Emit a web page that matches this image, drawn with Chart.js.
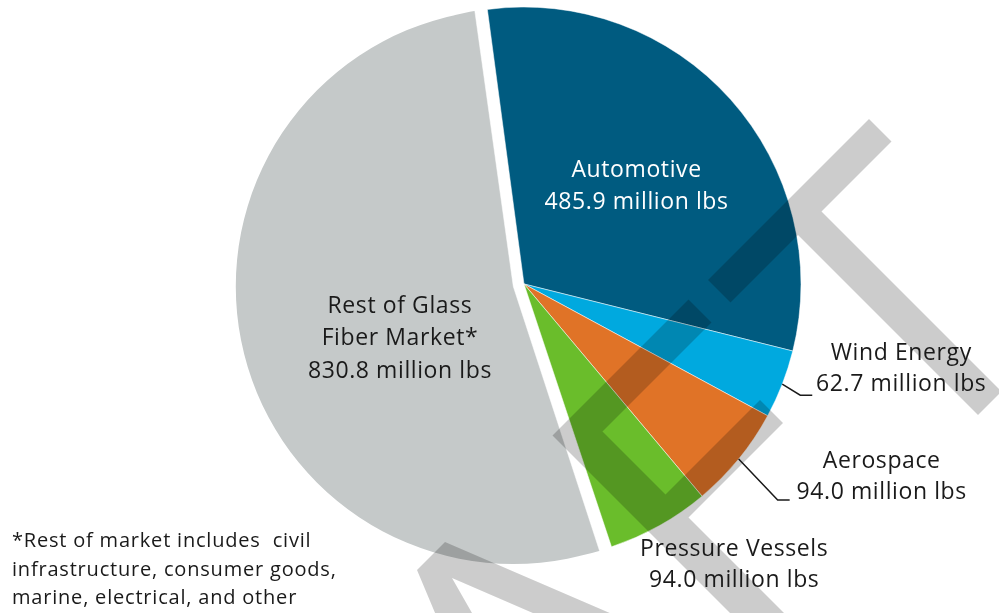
<!DOCTYPE html>
<html>
<head>
<meta charset="utf-8">
<script src="https://cdn.jsdelivr.net/npm/chart.js@4"></script>
<style>
  html, body { margin: 0; padding: 0; background: #fff; }
  #wrap { position: relative; width: 999px; height: 613px; }
  #note {
    position: absolute; left: 12px; top: 526px;
    font-family: "Open Sans", sans-serif; font-size: 20px; line-height: 28.5px;
    letter-spacing: 0.8px; color: #1a1a1a; white-space: pre;
  }
</style>
</head>
<body>
<div id="wrap">
  <canvas id="myChart" width="999" height="613"></canvas>
  <div id="note">*Rest of market includes  civil
infrastructure, consumer goods,
marine, electrical, and other</div>
</div>
<script>
const segments = ["Automotive", "Wind Energy", "Aerospace", "Pressure Vessels", ["Rest of Glass", "Fiber Market*"]];
const pounds = [485.9, 62.7, 94.0, 94.0, 830.8];
const unit = "million lbs";
const sliceColors = ["#005b80", "#00a9df", "#e07327", "#6abd2b", "#c5c9c9"];

// label placement per slice (outside ones relative to the slice's outer mid point)
const labelSpots = [
    { inside: true, k: 0.545, dy: 3, color: "#ffffff" },
    { dx: 119, dy: 0, leader: [[18, 11], [30, 11]] },
    { dx: 143, dy: 33, leader: [[39, 41], [51, 41]] },
    { dx: 75, dy: 55 },
    { inside: true, k: 0.42, dy: 26, color: "#1a1a1a" },
];

// chart.js v4 moves an arc by a quarter of its offset option
const shiftOf = (chart, i) => (chart.data.datasets[0].offset[i] || 0) / 4;

// background watermark, drawn over the pie but under the text
function watermark(ctx) {
    const band = (s1, s2, d1, d2) => {
        const p = (s, d) => [(s - d) / 2, (s + d) / 2];
        const pts = [p(s1, d1), p(s2, d1), p(s2, d2), p(s1, d2)];
        ctx.moveTo(pts[0][0], pts[0][1]);
        for (let i = 1; i < 4; i++) ctx.lineTo(pts[i][0], pts[i][1]);
        ctx.closePath();
    };
    ctx.save();
    ctx.fillStyle = "rgba(0, 0, 0, 0.2)";
    ctx.beginPath();
    band(988, 1033, -750, -428);
    band(1033, 1393, -610, -563);
    band(988, 1034, -389, -117);
    band(988, 1500, -171, -117);
    band(1160, 1206, -360, -171);
    ctx.fill();
    ctx.beginPath();
    ctx.moveTo(445, 542);
    ctx.lineTo(626, 620);
    ctx.lineTo(549, 620);
    ctx.lineTo(452, 578);
    ctx.lineTo(476, 620);
    ctx.lineTo(438, 620);
    ctx.lineTo(417, 570);
    ctx.closePath();
    ctx.fill();
    ctx.restore();
}

// a pulled-out slice is also drawn bigger by chart.js; clip it back to the pie radius
const keepRadius = {
    id: "keepRadius",
    beforeDatasetDraw(chart) {
        const ctx = chart.ctx;
        const arcs = chart.getDatasetMeta(0).data;
        ctx.save();
        ctx.beginPath();
        arcs.forEach((arc, i) => {
            const { x, y, startAngle, endAngle, outerRadius } = arc.getProps(["x", "y", "startAngle", "endAngle", "outerRadius"]);
            const mid = (startAngle + endAngle) / 2;
            const s = shiftOf(chart, i);
            const cx = x + Math.cos(mid) * s;
            const cy = y + Math.sin(mid) * s;
            ctx.moveTo(cx + outerRadius + 0.5, cy);
            ctx.arc(cx, cy, outerRadius + 0.5, 0, Math.PI * 2);
        });
        ctx.clip();
    },
    afterDatasetDraw(chart) {
        chart.ctx.restore();
    },
};

const sliceLabels = {
    id: "sliceLabels",
    afterDatasetsDraw(chart) {
        const ctx = chart.ctx;
        watermark(ctx);
        const arcs = chart.getDatasetMeta(0).data;
        ctx.save();
        ctx.font = '23px "Open Sans", sans-serif';
        ctx.letterSpacing = "0.6px";
        ctx.textAlign = "center";
        ctx.textBaseline = "middle";
        arcs.forEach((arc, i) => {
            const { x, y, startAngle, endAngle, outerRadius } = arc.getProps(["x", "y", "startAngle", "endAngle", "outerRadius"]);
            const mid = (startAngle + endAngle) / 2;
            const off = shiftOf(chart, i);
            const cx = x + Math.cos(mid) * off;
            const cy = y + Math.sin(mid) * off;
            const spot = labelSpots[i];
            const name = [].concat(segments[i]);
            const lines = [...name, pounds[i].toFixed(1) + " " + unit];
            if (spot.inside) {
                const r = outerRadius * spot.k;
                const tx = cx + Math.cos(mid) * r;
                const ty = cy + Math.sin(mid) * r + spot.dy;
                const lh = 32.5;
                ctx.fillStyle = spot.color;
                lines.forEach((t, j) => {
                    ctx.fillText(t, tx, ty + (j - (lines.length - 1) / 2) * lh);
                });
            } else {
                const px = cx + Math.cos(mid) * outerRadius;
                const py = cy + Math.sin(mid) * outerRadius;
                if (spot.leader) {
                    ctx.strokeStyle = "#1a1a1a";
                    ctx.lineWidth = 1.5;
                    ctx.beginPath();
                    ctx.moveTo(px, py);
                    spot.leader.forEach(([lx, ly]) => ctx.lineTo(px + lx, py + ly));
                    ctx.stroke();
                }
                ctx.fillStyle = "#1a1a1a";
                const last = py + spot.dy;
                lines.forEach((t, j) => {
                    ctx.fillText(t, px + spot.dx, last - (lines.length - 1 - j) * 31);
                });
            }
        });
        ctx.restore();
    },
};

const ctx = document.getElementById("myChart");
const myChart = new Chart(ctx, {
    type: "pie",
    data: {
        labels: segments.map((s) => [].concat(s).join(" ")),
        datasets: [
            {
                data: pounds,
                backgroundColor: sliceColors,
                borderColor: "#ffffff",
                borderWidth: 0.5,
                offset: [0, 0, 0, 0, 44],
            },
        ],
    },
    options: {
        responsive: false,
        animation: false,
        rotation: -7.6,
        radius: 277,
        layout: { padding: { left: 49, right: 0, top: 0, bottom: 45 } },
        plugins: {
            legend: { display: false },
            tooltip: { enabled: false },
        },
    },
    plugins: [keepRadius, sliceLabels],
});
</script>
</body>
</html>
